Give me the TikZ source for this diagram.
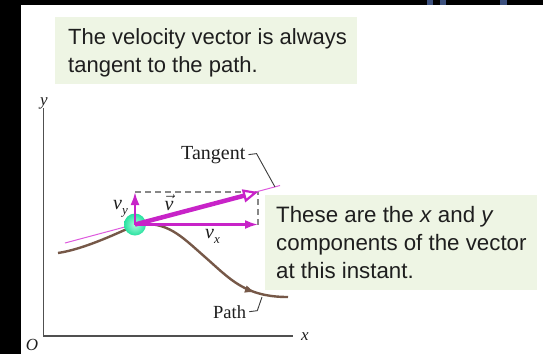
\documentclass[tikz,border=0pt]{standalone}
\usepackage{fontspec}
\setmainfont{Liberation Sans}
\newfontfamily\lserif{Liberation Serif}
\usetikzlibrary{arrows.meta,decorations.markings}
\definecolor{boxgreen}{RGB}{238,245,228}
\definecolor{vmag}{RGB}{200,35,200}
\definecolor{tanmag}{RGB}{222,90,222}
\definecolor{pathbrown}{RGB}{118,88,72}
\definecolor{dashgray}{RGB}{135,135,135}
\definecolor{ballgreen}{RGB}{40,225,160}
\definecolor{ballin}{RGB}{170,255,220}
\definecolor{axisgray}{RGB}{80,80,80}
\definecolor{leadgray}{RGB}{60,60,60}
\definecolor{txt}{RGB}{30,30,30}
\definecolor{blob}{RGB}{60,80,125}
\newcommand\vcomp[1]{v\raisebox{-0.28em}{\fontsize{13}{13}\selectfont #1}}
\tikzset{
  axis/.style={draw=axisgray, line width=1.3pt},
  lbl/.style={inner sep=0pt, text=txt, font=\lserif\itshape\fontsize{17}{17}\selectfont},
  vlbl/.style={inner sep=0pt, text=txt, font=\lserif\itshape\fontsize{20}{20}\selectfont},
  wordlbl/.style={inner sep=0pt, text=txt, anchor=base west},
  infobox/.style={fill=boxgreen, inner sep=0pt, anchor=north west},
  infotext/.style={inner sep=0pt, anchor=base west, align=left, text=txt},
  leader/.style={draw=leadgray, line width=0.9pt},
  compvec/.style={draw=vmag, line width=2.2pt, -{Latex[length=13pt,width=9pt]}},
  bigvec/.style={draw=vmag, line width=4.5pt, -{Triangle[fill=white, length=15pt, width=13pt, line width=2.2pt]}},
  dashbox/.style={draw=dashgray, line width=1.5pt, dash pattern=on 6pt off 4pt},
  tanline/.style={draw=tanmag, line width=1pt},
  pathline/.style={draw=pathbrown, line width=2.4pt},
}
\begin{document}
\begin{tikzpicture}[x=1pt,y=-1pt]
\useasboundingbox (0,0) rectangle (543,354);
\fill[white] (0,0) rectangle (543,354);
\fill[black] (0,0) rectangle (21,354);
\fill[black] (0,0) rectangle (543,5);
\fill[blob] (427,0) rectangle (433,5);
\fill[blob] (440,0) rectangle (446,5);
\fill[blob] (500,0) rectangle (507,5);

% info boxes (multi-line text: base anchor = last line)
\node[infobox, minimum width=302pt, minimum height=67pt] (box1) at (55,17) {};
\node[infotext, font=\fontsize{22}{27.5}\selectfont] (text1) at (68,72)
  {The velocity vector is always\\tangent to the path.};
\node[infobox, minimum width=272pt, minimum height=95pt] (box2) at (265,195) {};
\node[infotext, font=\fontsize{22.3}{28}\selectfont] (text2) at (276,278)
  {These are the \textit{x} and \textit{y}\\components of the vector\\at this instant.};

% axes
\coordinate (origin) at (43.5,336);
\coordinate (ytop) at (43.5,108);
\coordinate (xend) at (293,336);
\draw[axis] (ytop) -- (origin) -- (xend);
\node[lbl] (ylab) at (44,103) {y};
\node[lbl] (xlab) at (305,337) {x};
\node[lbl] (olab) at (32,345) {O};

% key points
\coordinate (P) at (135,224.5);
\coordinate (Vtip) at (258,192);
\coordinate (Vx) at (258,224.5);
\coordinate (Vy) at (135,192);
\coordinate (tanA) at (65,243);
\coordinate (tanB) at (280,185.5);

% dashed component box
\draw[dashbox] (Vy) -- (Vtip) -- (Vx);

% path
\draw[pathline, postaction={decorate}, decoration={markings,
   mark=at position 0.87 with {\arrow[pathbrown]{Latex[length=10pt,width=8pt]}}}]
  (58,253) .. controls (85,249) and (120,232) .. (138,224)
  .. controls (168,222) and (180,235) .. (205,257)
  .. controls (230,279) and (245,297) .. (288,297);

% tangent line
\draw[tanline] (tanA) -- (tanB);

% ball
\node[circle, minimum size=22pt, inner sep=0pt, inner color=ballin, outer color=ballgreen] (ball) at (P) {};

% vectors
\draw[compvec] (P) -- (Vx);
\draw[compvec] (P) -- (Vy);
\draw[bigvec] (P) -- (Vtip);

% vector labels
\node[vlbl, anchor=base west] (vylab) at (113,209) {\vcomp{y}};
\node[vlbl, anchor=base] (vlab) at (169,210) {$\vec{\hbox{\lserif\itshape v}}$};
\node[vlbl, anchor=base west] (vxlab) at (205,238) {\vcomp{x}};

% Tangent label
\node[wordlbl, font=\lserif\fontsize{20}{20}\selectfont] (tanlab) at (181,159) {Tangent};
\coordinate (tanpt) at (275,187);
\draw[leader] (tanlab.east) ++(3,0) coordinate (tl0) -- ++(8,-1) coordinate (tl1) -- (tanpt);

% Path label
\node[wordlbl, font=\lserif\fontsize{18.5}{18.5}\selectfont] (pathlab) at (213,318) {Path};
\coordinate (pathpt) at (262,297);
\draw[leader] (pathlab.east) ++(3,0) coordinate (pl0) -- ++(8,-1) coordinate (pl1) -- (pathpt);
\end{tikzpicture}
\end{document}
